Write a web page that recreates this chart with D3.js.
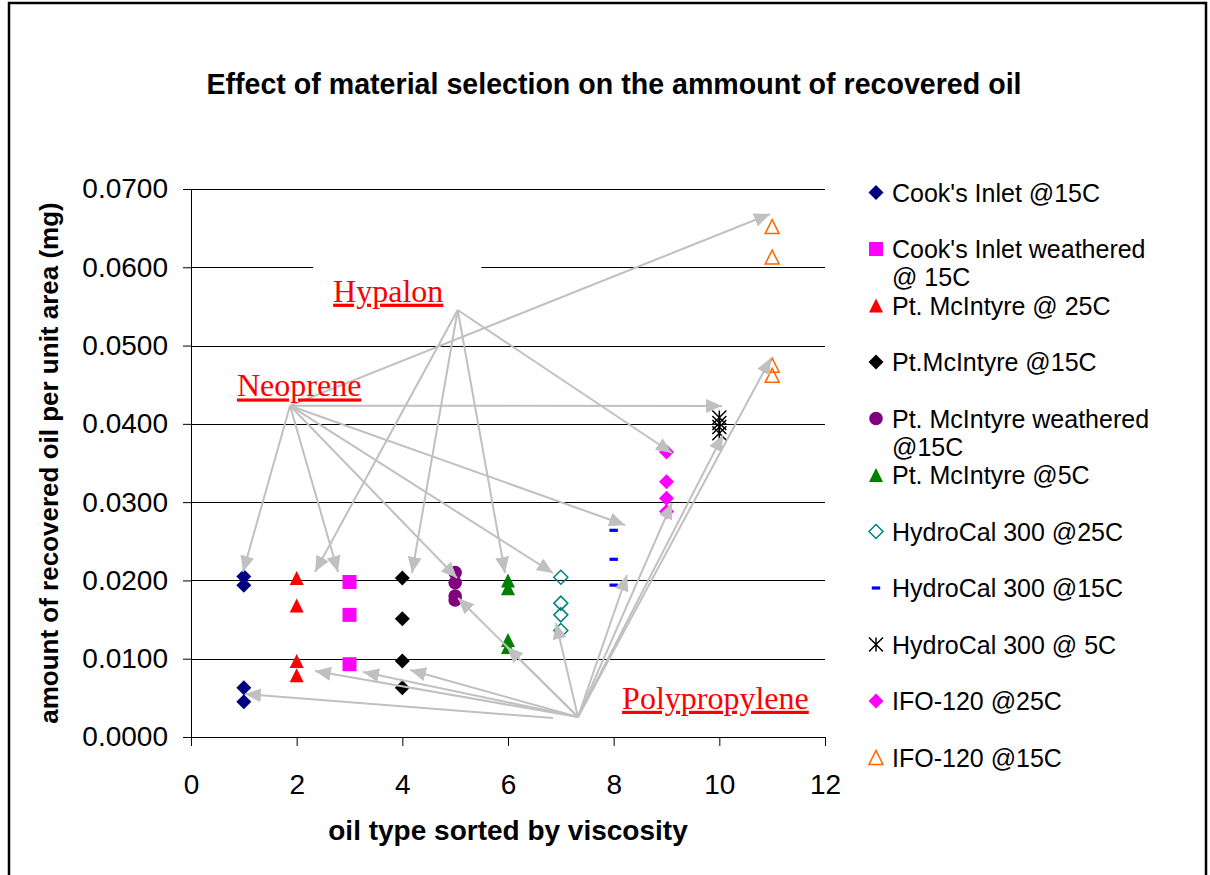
<!DOCTYPE html>
<html>
<head>
    <title>recovered oil</title>
    <script src="https://cdnjs.cloudflare.com/ajax/libs/d3/7.8.5/d3.min.js"></script>
    <style>
        body { margin: 0; background: #fff; }
        svg text { font-family: "Liberation Sans", Arial, sans-serif; fill: #000; }
        .grid line { stroke: #000; stroke-width: 1; }
        .axis path, .axis line { stroke: #000; stroke-width: 1; }
        .axis text { font-size: 28px; }
        .legend text { font-size: 25px; }
        svg text.note-text { font-family: "Liberation Serif", "Times New Roman", serif; font-size: 32px; fill: #f00; }
        .arrow { stroke: #c0c0c0; stroke-width: 2; fill: none; }
    </style>
</head>
<body>
<script>
    // axis ticks
    var xTicks = [0, 2, 4, 6, 8, 10, 12];
    var yTicks = [0, 0.01, 0.02, 0.03, 0.04, 0.05, 0.06, 0.07];

    // series (oil type position on x, recovered oil on y)
    var seriesNames = ["Cook's Inlet @15C", "Cook's Inlet weathered\n@ 15C", "Pt. McIntyre @ 25C",
        "Pt.McIntyre @15C", "Pt. McIntyre weathered\n@15C", "Pt. McIntyre @5C", "HydroCal 300 @25C",
        "HydroCal 300 @15C", "HydroCal 300 @ 5C", "IFO-120 @25C", "IFO-120 @15C"];
    var seriesX = [1, 3, 2, 4, 5, 6, 7, 8, 10, 9, 11];
    var cooksInlet15 = [0.0205, 0.0194, 0.0063, 0.0045];
    var cooksWeathered15 = [0.0198, 0.0156, 0.0093];
    var mcIntyre25 = [0.0203, 0.0168, 0.0097, 0.0079];
    var mcIntyre15 = [0.0203, 0.0151, 0.0097, 0.0063];
    var mcIntyreWeathered15 = [0.0210, 0.0197, 0.0180, 0.0175];
    var mcIntyre5 = [0.0200, 0.0190, 0.0124, 0.0115];
    var hydroCal25 = [0.0204, 0.0171, 0.0156, 0.0136];
    var hydroCal15 = [0.0264, 0.0227, 0.0194];
    var hydroCal5 = [0.0408, 0.0401, 0.0396, 0.0388];
    var ifo25 = [0.0364, 0.0326, 0.0305, 0.0288];
    var ifo15 = [0.0652, 0.0613, 0.0475, 0.0462];
    var seriesValues = [cooksInlet15, cooksWeathered15, mcIntyre25, mcIntyre15, mcIntyreWeathered15,
        mcIntyre5, hydroCal25, hydroCal15, hydroCal5, ifo25, ifo15];

    // material callouts: label, text anchor, arrows [fromX, fromY, toX, toY]
    var noteLabels = ["Hypalon", "Neoprene", "Polypropylene"];
    var noteAnchors = [[2.69, 0.0556], [0.87, 0.0435], [8.16, 0.0036]];
    var hypalonArrows = [
        [5.048, 0.05454, 2.347, 0.02108], [5.048, 0.05454, 4.183, 0.02095],
        [5.048, 0.05454, 5.943, 0.02095], [5.048, 0.05454, 9.103, 0.03628]];
    var neopreneArrows = [
        [1.874, 0.04232, 0.984, 0.02108], [1.874, 0.04232, 2.782, 0.02108],
        [1.874, 0.04232, 5.035, 0.02031], [1.874, 0.04232, 6.852, 0.02095],
        [1.874, 0.04232, 8.215, 0.02708], [1.874, 0.04232, 10.052, 0.04228],
        [1.874, 0.04232, 10.960, 0.06681]];
    var polypropyleneArrows = [
        [6.852, 0.00243, 1.022, 0.00549], [7.325, 0.00255, 2.347, 0.00843],
        [7.325, 0.00255, 3.256, 0.00830], [7.325, 0.00255, 4.145, 0.00856],
        [7.325, 0.00255, 5.054, 0.01776], [7.325, 0.00255, 5.981, 0.01150],
        [7.325, 0.00255, 6.909, 0.01456], [7.325, 0.00255, 8.252, 0.02069],
        [7.325, 0.00255, 9.103, 0.02989], [7.325, 0.00255, 10.069, 0.03858],
        [7.325, 0.00255, 10.978, 0.04841]];

    var width = 1210, height = 875;
    var plotLeft = 191, plotRight = 825, plotTop = 189, plotBottom = 737;

    var svg = d3.select("body").append("svg")
        .attr("width", width).attr("height", height);

    svg.append("rect").attr("x", 9).attr("y", 3)
        .attr("width", 1197).attr("height", 890)
        .attr("fill", "#fff").attr("stroke", "#000").attr("stroke-width", 2.5);

    var x = d3.scaleLinear().domain([0, 12]).range([plotLeft, plotRight]);
    var y = d3.scaleLinear().domain([0, 0.07]).range([plotBottom, plotTop]);

    // gridlines
    svg.append("g").attr("class", "grid")
        .selectAll("line").data(yTicks.slice(1)).enter().append("line")
        .attr("x1", plotLeft).attr("x2", plotRight)
        .attr("y1", function (d) { return Math.round(y(d)) + 0.5; })
        .attr("y2", function (d) { return Math.round(y(d)) + 0.5; });

    svg.append("g").attr("class", "axis")
        .attr("transform", "translate(" + plotLeft + ",0)")
        .call(d3.axisLeft(y).tickValues(yTicks).tickFormat(d3.format(".4f"))
            .tickSize(8).tickSizeOuter(0).tickPadding(15));

    svg.append("g").attr("class", "axis")
        .attr("transform", "translate(0," + plotBottom + ")")
        .call(d3.axisBottom(x).tickValues(xTicks).tickFormat(d3.format("d"))
            .tickSize(9).tickSizeOuter(0).tickPadding(28));

    // titles
    svg.append("text").attr("x", 614).attr("y", 94)
        .attr("text-anchor", "middle").style("font-size", "28.6px").style("font-weight", "bold")
        .text("Effect of material selection on the ammount of recovered oil");
    svg.append("text").attr("x", (plotLeft + plotRight) / 2).attr("y", 840)
        .attr("text-anchor", "middle").style("font-size", "28px").style("font-weight", "bold")
        .text("oil type sorted by viscosity");
    svg.append("text").attr("transform", "translate(58," + (plotTop + plotBottom) / 2 + ") rotate(-90)")
        .attr("text-anchor", "middle").style("font-size", "26px").style("font-weight", "bold")
        .text("amount of recovered oil per unit area (mg)");

    // marker shapes
    function diamond(s) { return "M0," + (-s) + "L" + s + ",0L0," + s + "L" + (-s) + ",0Z"; }
    function triangle(s) { return "M0," + (-s) + "L" + s + "," + s + "L" + (-s) + "," + s + "Z"; }
    function square(s) { return "M" + (-s) + "," + (-s) + "H" + s + "V" + s + "H" + (-s) + "Z"; }
    function circle(s) { return "M" + s + ",0A" + s + "," + s + " 0 1,1 " + (-s) + ",0A" + s + "," + s + " 0 1,1 " + s + ",0Z"; }
    function dash(s) { return "M" + (-s * 0.6) + ",-1.6H" + (s * 0.6) + "V1.6H" + (-s * 0.6) + "Z"; }
    function star(s) { return "M" + (-s) + "," + (-s) + "L" + s + "," + s + "M" + (-s) + "," + s + "L" + s + "," + (-s) + "M0," + (-s) + "V" + s; }

    var markers = [
        { shape: diamond, size: 7.5, fill: "#000080", stroke: "none" },
        { shape: square, size: 7, fill: "#ff00ff", stroke: "none" },
        { shape: triangle, size: 7, fill: "#ff0000", stroke: "none" },
        { shape: diamond, size: 7.5, fill: "#000", stroke: "none" },
        { shape: circle, size: 6.8, fill: "#800080", stroke: "none" },
        { shape: triangle, size: 7, fill: "#008000", stroke: "none" },
        { shape: diamond, size: 7, fill: "none", stroke: "#008080" },
        { shape: dash, size: 7, fill: "#0000ff", stroke: "none" },
        { shape: star, size: 7, fill: "none", stroke: "#000" },
        { shape: diamond, size: 7.5, fill: "#ff00ff", stroke: "none" },
        { shape: triangle, size: 7, fill: "none", stroke: "#ff6600" }
    ];

    var series = seriesNames.map(function (name, i) {
        return { name: name, x: seriesX[i], values: seriesValues[i], marker: markers[i] };
    });

    var plot = svg.append("g").attr("class", "points");
    series.forEach(function (s) {
        plot.selectAll(null).data(s.values).enter().append("path")
            .attr("transform", function (d) { return "translate(" + x(s.x) + "," + y(d) + ")"; })
            .attr("d", s.marker.shape(s.marker.size))
            .attr("fill", s.marker.fill)
            .attr("stroke", s.marker.stroke)
            .attr("stroke-width", 1.5);
    });

    // legend
    var legend = svg.append("g").attr("class", "legend");
    var item = legend.selectAll("g").data(series).enter().append("g")
        .attr("transform", function (d, i) { return "translate(876," + (192.5 + i * 56.5) + ")"; });
    item.append("path")
        .attr("d", function (d) { return d.marker.shape(d.marker.size); })
        .attr("fill", function (d) { return d.marker.fill; })
        .attr("stroke", function (d) { return d.marker.stroke; })
        .attr("stroke-width", 1.5);
    item.append("text").attr("x", 16).attr("y", 9)
        .selectAll("tspan").data(function (d) { return d.name.split("\n"); })
        .enter().append("tspan")
        .attr("x", 16).attr("dy", function (d, i) { return i ? 28 : 0; })
        .text(function (d) { return d; });

    // callouts: white boxes, then arrows, then the labels on top
    svg.append("defs").append("marker").attr("id", "head")
        .attr("viewBox", "0 0 16 14").attr("refX", 16).attr("refY", 7)
        .attr("markerWidth", 16).attr("markerHeight", 14)
        .attr("markerUnits", "userSpaceOnUse").attr("orient", "auto")
        .append("path").attr("d", "M0,0L16,7L0,14Z").attr("fill", "#c0c0c0");

    var boxes = svg.append("g");
    var arrows = svg.append("g");
    var notes = svg.append("g");

    noteLabels.forEach(function (t, i) {
        var lab = notes.append("text").attr("class", "note-text")
            .attr("x", x(noteAnchors[i][0])).attr("y", y(noteAnchors[i][1]))
            .style("text-decoration", "underline")
            .text(t);
        var b = lab.node().getBBox();
        boxes.append("rect")
            .attr("x", b.x - 20).attr("y", b.y - 10)
            .attr("width", b.width + 58).attr("height", b.height + 6)
            .attr("fill", "#fff");
    });

    arrows.selectAll("line").data(hypalonArrows.concat(neopreneArrows, polypropyleneArrows))
        .enter().append("line").attr("class", "arrow")
        .attr("x1", function (d) { return x(d[0]); })
        .attr("y1", function (d) { return y(d[1]); })
        .attr("x2", function (d) { return x(d[2]); })
        .attr("y2", function (d) { return y(d[3]); })
        .attr("marker-end", "url(#head)");
</script>
</body>
</html>
